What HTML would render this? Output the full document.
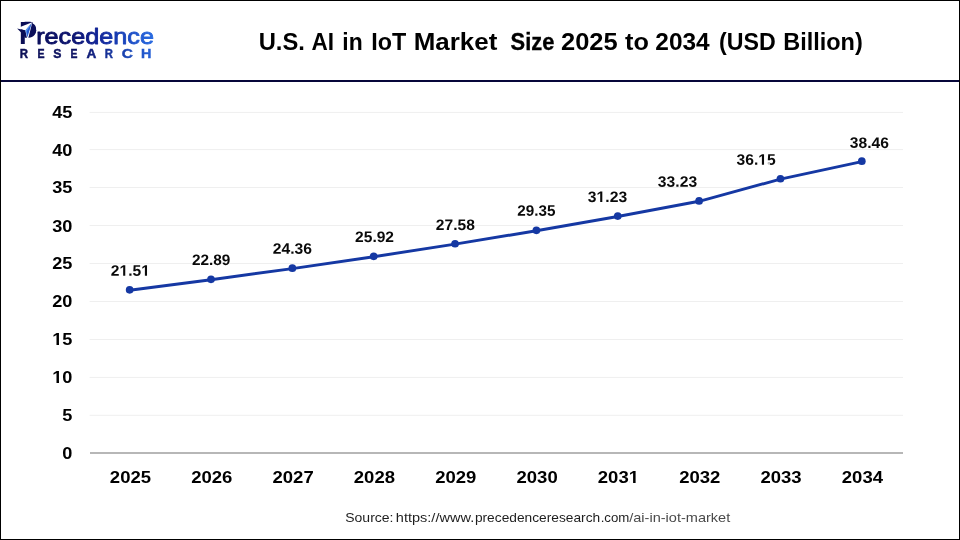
<!DOCTYPE html>
<html lang="en">
<head>
<meta charset="utf-8">
<title>U.S. AI in IoT Market Size 2025 to 2034 (USD Billion)</title>
<style>
html,body{margin:0;padding:0;background:#fff;}
body{width:960px;height:540px;overflow:hidden;position:relative;font-family:"Liberation Sans",sans-serif;}
svg{position:absolute;left:0;top:0;display:block;}
text{font-family:"Liberation Sans",sans-serif;}
.ax{font-weight:bold;font-size:16.8px;fill:#000;}
.dl{font-weight:bold;font-size:15.2px;fill:#0a0a0a;}
</style>
</head>
<body>
<svg width="960" height="540" viewBox="0 0 960 540">
<defs>
<linearGradient id="lg" gradientUnits="userSpaceOnUse" x1="18" y1="0" x2="154" y2="0">
<stop offset="0" stop-color="#0a0d52"/>
<stop offset="0.4" stop-color="#0d1470"/>
<stop offset="0.6" stop-color="#12269a"/>
<stop offset="0.8" stop-color="#1b48c0"/>
<stop offset="1" stop-color="#2a6ce2"/>
</linearGradient>
<linearGradient id="lg2" gradientUnits="userSpaceOnUse" x1="18" y1="0" x2="154" y2="0">
<stop offset="0" stop-color="#0c0f55"/>
<stop offset="0.45" stop-color="#0f1566"/>
<stop offset="0.6" stop-color="#14288c"/>
<stop offset="0.8" stop-color="#1a46b4"/>
<stop offset="1" stop-color="#2662da"/>
</linearGradient>
</defs>
<rect x="0" y="0" width="960" height="540" fill="#ffffff"/>

<line x1="89.6" y1="415.30" x2="903" y2="415.30" stroke="#efefef" stroke-width="1"/>
<line x1="89.6" y1="377.40" x2="903" y2="377.40" stroke="#efefef" stroke-width="1"/>
<line x1="89.6" y1="339.50" x2="903" y2="339.50" stroke="#efefef" stroke-width="1"/>
<line x1="89.6" y1="301.50" x2="903" y2="301.50" stroke="#efefef" stroke-width="1"/>
<line x1="89.6" y1="263.50" x2="903" y2="263.50" stroke="#efefef" stroke-width="1"/>
<line x1="89.6" y1="225.50" x2="903" y2="225.50" stroke="#efefef" stroke-width="1"/>
<line x1="89.6" y1="187.50" x2="903" y2="187.50" stroke="#efefef" stroke-width="1"/>
<line x1="89.6" y1="149.60" x2="903" y2="149.60" stroke="#efefef" stroke-width="1"/>
<line x1="89.6" y1="112.40" x2="903" y2="112.40" stroke="#efefef" stroke-width="1"/>
<line x1="90" y1="453.0" x2="903" y2="453.0" stroke="#b7b7b7" stroke-width="2"/>
<text class="ax" transform="translate(72.3 458.60) scale(1.08 1)" text-anchor="end">0</text>
<text class="ax" transform="translate(72.3 420.76) scale(1.08 1)" text-anchor="end">5</text>
<text class="ax" transform="translate(72.3 382.92) scale(1.08 1)" text-anchor="end">10</text>
<text class="ax" transform="translate(72.3 345.08) scale(1.08 1)" text-anchor="end">15</text>
<text class="ax" transform="translate(72.3 307.24) scale(1.08 1)" text-anchor="end">20</text>
<text class="ax" transform="translate(72.3 269.40) scale(1.08 1)" text-anchor="end">25</text>
<text class="ax" transform="translate(72.3 231.56) scale(1.08 1)" text-anchor="end">30</text>
<text class="ax" transform="translate(72.3 193.12) scale(1.08 1)" text-anchor="end">35</text>
<text class="ax" transform="translate(72.3 155.88) scale(1.08 1)" text-anchor="end">40</text>
<text class="ax" transform="translate(72.3 118.04) scale(1.08 1)" text-anchor="end">45</text>
<text class="ax" x="130.45" y="483" text-anchor="middle" textLength="41.2" lengthAdjust="spacingAndGlyphs">2025</text>
<text class="ax" x="211.78" y="483" text-anchor="middle" textLength="41.2" lengthAdjust="spacingAndGlyphs">2026</text>
<text class="ax" x="293.11" y="483" text-anchor="middle" textLength="41.2" lengthAdjust="spacingAndGlyphs">2027</text>
<text class="ax" x="374.44" y="483" text-anchor="middle" textLength="41.2" lengthAdjust="spacingAndGlyphs">2028</text>
<text class="ax" x="455.77" y="483" text-anchor="middle" textLength="41.2" lengthAdjust="spacingAndGlyphs">2029</text>
<text class="ax" x="537.10" y="483" text-anchor="middle" textLength="41.2" lengthAdjust="spacingAndGlyphs">2030</text>
<text class="ax" x="618.43" y="483" text-anchor="middle" textLength="41.2" lengthAdjust="spacingAndGlyphs">2031</text>
<text class="ax" x="699.76" y="483" text-anchor="middle" textLength="41.2" lengthAdjust="spacingAndGlyphs">2032</text>
<text class="ax" x="781.09" y="483" text-anchor="middle" textLength="41.2" lengthAdjust="spacingAndGlyphs">2033</text>
<text class="ax" x="862.42" y="483" text-anchor="middle" textLength="41.2" lengthAdjust="spacingAndGlyphs">2034</text>
<polyline points="129.65,290.20 211.00,279.73 292.35,268.58 373.70,256.74 455.05,244.15 536.40,230.72 617.75,216.46 699.10,201.28 780.45,179.13 861.80,161.60" fill="none" stroke="#1538a3" stroke-width="2.9" stroke-linejoin="round" stroke-linecap="round"/>
<circle cx="129.65" cy="289.80" r="3.85" fill="#1538a3"/>
<circle cx="211.00" cy="279.33" r="3.85" fill="#1538a3"/>
<circle cx="292.35" cy="268.18" r="3.85" fill="#1538a3"/>
<circle cx="373.70" cy="256.34" r="3.85" fill="#1538a3"/>
<circle cx="455.05" cy="243.75" r="3.85" fill="#1538a3"/>
<circle cx="536.40" cy="230.32" r="3.85" fill="#1538a3"/>
<circle cx="617.75" cy="216.06" r="3.85" fill="#1538a3"/>
<circle cx="699.10" cy="200.88" r="3.85" fill="#1538a3"/>
<circle cx="780.45" cy="178.73" r="3.85" fill="#1538a3"/>
<circle cx="861.80" cy="161.20" r="3.85" fill="#1538a3"/>
<text class="dl" x="110.85" y="275.80" transform="rotate(0.05 129.8 275.8)" textLength="39.0" lengthAdjust="spacingAndGlyphs">21.51</text>
<text class="dl" x="191.91" y="265.00" transform="rotate(0.05 211.1 265.0)" textLength="38.44" lengthAdjust="spacingAndGlyphs">22.89</text>
<text class="dl" x="272.72" y="253.80" transform="rotate(0.05 292.2 253.8)" textLength="39.19" lengthAdjust="spacingAndGlyphs">24.36</text>
<text class="dl" x="355.08" y="242.00" transform="rotate(0.05 374.4 242.0)" textLength="38.95" lengthAdjust="spacingAndGlyphs">25.92</text>
<text class="dl" x="435.89" y="230.10" transform="rotate(0.05 455.3 230.1)" textLength="38.93" lengthAdjust="spacingAndGlyphs">27.58</text>
<text class="dl" x="517.26" y="215.80" transform="rotate(0.05 536.3 215.8)" textLength="38.17" lengthAdjust="spacingAndGlyphs">29.35</text>
<text class="dl" x="587.82" y="202.00" transform="rotate(0.05 607.2 202.0)" textLength="39.32" lengthAdjust="spacingAndGlyphs">31.23</text>
<text class="dl" x="657.85" y="186.80" transform="rotate(0.05 677.4 186.8)" textLength="39.28" lengthAdjust="spacingAndGlyphs">33.23</text>
<text class="dl" x="736.53" y="164.75" transform="rotate(0.05 756.2 164.8)" textLength="39.12" lengthAdjust="spacingAndGlyphs">36.15</text>
<text class="dl" x="849.85" y="147.90" transform="rotate(0.05 869.4 147.9)" textLength="39.09" lengthAdjust="spacingAndGlyphs">38.46</text>
<rect x="0" y="80" width="960" height="2" fill="#07073a"/>
<text y="49.6" font-size="24.2" font-weight="bold" fill="#000" xml:space="preserve"><tspan x="258.7" textLength="46.24" lengthAdjust="spacingAndGlyphs">U.S.</tspan> <tspan x="311.4" textLength="22.56" lengthAdjust="spacingAndGlyphs">AI</tspan> <tspan x="342.3" textLength="20.35" lengthAdjust="spacingAndGlyphs">in</tspan> <tspan x="371.2" textLength="34.98" lengthAdjust="spacingAndGlyphs">IoT</tspan> <tspan x="413.7" textLength="83.59" lengthAdjust="spacingAndGlyphs">Market</tspan>  <tspan x="510.6" textLength="43.78" lengthAdjust="spacingAndGlyphs" stroke="#000" stroke-width="0.35">Size</tspan> <tspan x="561.0" textLength="56.7" lengthAdjust="spacingAndGlyphs">2025</tspan> <tspan x="625.1" textLength="23.85" lengthAdjust="spacingAndGlyphs">to</tspan> <tspan x="655.3" textLength="54.39" lengthAdjust="spacingAndGlyphs">2034</tspan> <tspan x="719.0" textLength="56.7" lengthAdjust="spacingAndGlyphs">(USD</tspan> <tspan x="783.2" textLength="79.59" lengthAdjust="spacingAndGlyphs">Billion)</tspan></text>
<text y="44.4" fill="url(#lg)" stroke="url(#lg)" stroke-width="0.85" stroke-linejoin="round"><tspan x="19.0" font-size="31.5" font-weight="bold" stroke-width="0" textLength="18.3" lengthAdjust="spacingAndGlyphs">P</tspan><tspan x="36.2" font-size="22.6" textLength="117.8" lengthAdjust="spacingAndGlyphs">recedence</tspan></text>
<path d="M24.6,21.7 H30 C34.4,22 36.2,25.6 36.2,29.8 C36.2,34 33.5,37.7 28.6,37.7 H24.6 Z" fill="#0b0f5a"/>
<path d="M32.4,20.5 H38.5 V30 H36.25 C36.25,26.6 35.1,24.4 32.8,23.5 Z" fill="#ffffff"/>
<polygon points="17.1,28.3 32.2,22.2 25.6,30.5" fill="#ffffff"/>
<polygon points="17.1,28.4 25.7,30.5 25.7,33.5 21.1,32.4" fill="#0a0e55"/>
<polygon points="32.3,22.6 25.3,30.2 27.0,38.0 28.3,38.0" fill="#ffffff"/>
<polygon points="31.8,23.3 25.5,30.2 27.4,37.3" fill="#2459d0"/>
<polygon points="31.8,23.3 25.5,30.2 27.4,37.3 26.6,31.2" fill="#5f9ff0"/>
<text y="58.0" font-size="13" font-weight="bold" fill="url(#lg2)" stroke="url(#lg2)" stroke-width="0.45"><tspan x="19.86" textLength="8.28" lengthAdjust="spacingAndGlyphs">R</tspan><tspan x="37.41" textLength="7.06" lengthAdjust="spacingAndGlyphs">E</tspan><tspan x="53.27" textLength="8.17" lengthAdjust="spacingAndGlyphs">S</tspan><tspan x="70.4" textLength="6.95" lengthAdjust="spacingAndGlyphs">E</tspan><tspan x="86.41" textLength="9.8" lengthAdjust="spacingAndGlyphs">A</tspan><tspan x="104.8" textLength="8.18" lengthAdjust="spacingAndGlyphs">R</tspan><tspan x="121.66" textLength="11.13" lengthAdjust="spacingAndGlyphs">C</tspan><tspan x="141.0" textLength="10.37" lengthAdjust="spacingAndGlyphs">H</tspan></text>
<text y="522.1" font-size="12.9" fill="#1e1e1e"><tspan x="345.23" textLength="48.31" lengthAdjust="spacingAndGlyphs">Source:</tspan> <tspan x="395.84" textLength="78.35" lengthAdjust="spacingAndGlyphs">https://www.</tspan><tspan x="474.91" textLength="125.24" lengthAdjust="spacingAndGlyphs">precedenceresearch</tspan><tspan x="600.65" textLength="28.69" lengthAdjust="spacingAndGlyphs">.com</tspan><tspan x="629.24" textLength="100.98" lengthAdjust="spacingAndGlyphs" fill="#4a4a4a">/ai-in-iot-market</tspan></text>
<g fill="#ffffff" shape-rendering="crispEdges">
<rect x="767" y="162" width="1" height="1" fill-opacity="0.824"/>
<rect x="768" y="162" width="1" height="1" fill-opacity="0.703"/>
<rect x="769" y="162" width="1" height="1" fill-opacity="0.698"/>
<rect x="759" y="163" width="2" height="1"/>
<rect x="761" y="163" width="1" height="1" fill-opacity="0.865"/>
<rect x="764" y="163" width="1" height="1" fill-opacity="0.95"/>
<rect x="765" y="163" width="2" height="1"/>
<rect x="768" y="163" width="1" height="1" fill-opacity="0.721"/>
<rect x="769" y="163" width="1" height="1" fill-opacity="0.751"/>
<rect x="759" y="164" width="2" height="1"/>
<rect x="761" y="164" width="1" height="1" fill-opacity="0.898"/>
<rect x="764" y="164" width="1" height="1" fill-opacity="0.963"/>
<rect x="765" y="164" width="2" height="1"/>
<rect x="769" y="164" width="1" height="1" fill-opacity="0.695"/>
<rect x="597" y="200" width="3" height="1"/>
<rect x="600" y="200" width="1" height="1" fill-opacity="0.1"/>
<rect x="602" y="200" width="1" height="1" fill-opacity="0.516"/>
<rect x="603" y="200" width="2" height="1"/>
<rect x="597" y="201" width="3" height="1"/>
<rect x="600" y="201" width="1" height="1" fill-opacity="0.188"/>
<rect x="602" y="201" width="1" height="1" fill-opacity="0.69"/>
<rect x="603" y="201" width="2" height="1"/>
<rect x="120" y="274" width="3" height="1"/>
<rect x="123" y="274" width="1" height="1" fill-opacity="0.12"/>
<rect x="125" y="274" width="1" height="1" fill-opacity="0.663"/>
<rect x="126" y="274" width="2" height="1"/>
<rect x="142" y="274" width="2" height="1"/>
<rect x="144" y="274" width="1" height="1" fill-opacity="0.855"/>
<rect x="147" y="274" width="1" height="1" fill-opacity="0.972"/>
<rect x="148" y="274" width="2" height="1"/>
<rect x="120" y="275" width="3" height="1"/>
<rect x="123" y="275" width="1" height="1" fill-opacity="0.159"/>
<rect x="125" y="275" width="1" height="1" fill-opacity="0.731"/>
<rect x="126" y="275" width="2" height="1"/>
<rect x="142" y="275" width="2" height="1"/>
<rect x="144" y="275" width="1" height="1" fill-opacity="0.89"/>
<rect x="147" y="275" width="1" height="1" fill-opacity="0.98"/>
<rect x="148" y="275" width="2" height="1"/>
<rect x="53" y="343" width="3" height="1"/>
<rect x="56" y="343" width="1" height="1" fill-opacity="0.411"/>
<rect x="59" y="343" width="3" height="1"/>
<rect x="53" y="344" width="3" height="1"/>
<rect x="56" y="344" width="1" height="1" fill-opacity="0.494"/>
<rect x="59" y="344" width="3" height="1"/>
<rect x="53" y="381" width="3" height="1"/>
<rect x="56" y="381" width="1" height="1" fill-opacity="0.411"/>
<rect x="59" y="381" width="3" height="1"/>
<rect x="53" y="382" width="3" height="1"/>
<rect x="56" y="382" width="1" height="1" fill-opacity="0.494"/>
<rect x="59" y="382" width="3" height="1"/>
<rect x="630" y="481" width="3" height="1"/>
<rect x="633" y="481" width="1" height="1" fill-opacity="0.068"/>
<rect x="635" y="481" width="1" height="1" fill-opacity="0.327"/>
<rect x="636" y="481" width="3" height="1"/>
<rect x="630" y="482" width="3" height="1"/>
<rect x="633" y="482" width="1" height="1" fill-opacity="0.09"/>
<rect x="635" y="482" width="1" height="1" fill-opacity="0.404"/>
<rect x="636" y="482" width="3" height="1"/>
</g>
<rect x="0.5" y="0.5" width="959" height="539" fill="none" stroke="#000" stroke-width="1"/>
</svg>
</body>
</html>
